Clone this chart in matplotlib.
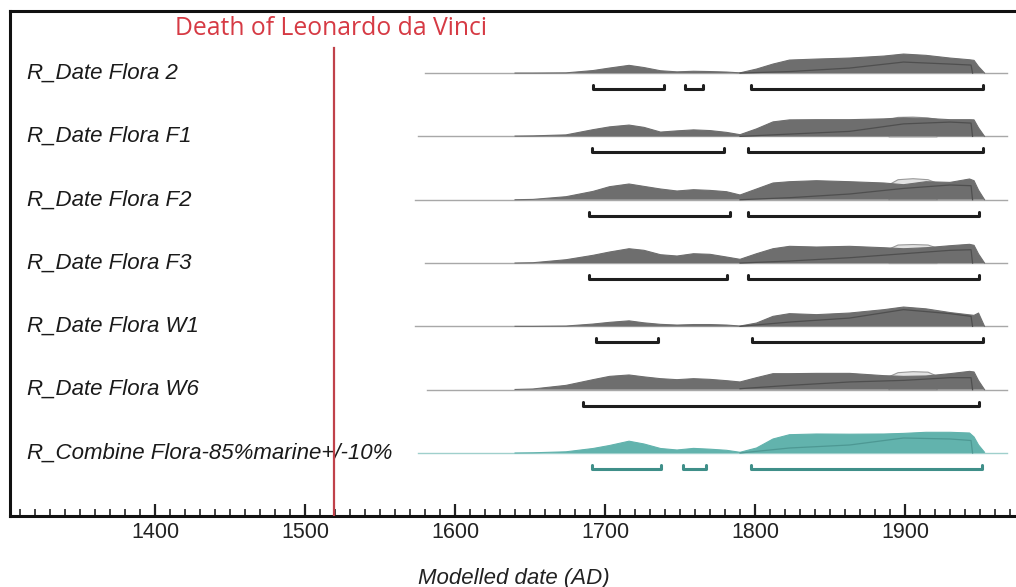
import matplotlib
matplotlib.use("Agg")
import matplotlib.pyplot as plt
from matplotlib.ticker import MultipleLocator

# row names, top to bottom
labels = ["R_Date Flora 2", "R_Date Flora F1", "R_Date Flora F2", "R_Date Flora F3",
          "R_Date Flora W1", "R_Date Flora W6", "R_Combine Flora-85%marine+/-10%"]

years = [1640, 1652, 1674, 1692, 1703, 1716, 1726, 1737, 1748, 1759, 1770, 1781, 1790,
         1801, 1812, 1823, 1841, 1863, 1886, 1899, 1914, 1930, 1943, 1946, 1949, 1953]

# posterior probability (relative)
p_flora2 = [0, 0, 0.2, 2.5, 5, 7.7, 5.5, 2.3, 1.2, 1.8, 1.5, 1, 0.2,
            4, 9, 13, 14, 15, 17, 19, 17.7, 15, 13.3, 12.7, 6.5, 0]
p_f1 = [0.3, 0.5, 1.5, 6.7, 9.5, 11.3, 9, 4.3, 5.5, 6.5, 5.8, 4, 1.7,
        7.5, 14.5, 16.5, 16.7, 16.7, 17.5, 18.5, 18, 16.7, 16.7, 16.5, 8.5, 0]
p_f2 = [0, 0.3, 3, 8.3, 13, 15.7, 13.3, 10.7, 8.7, 10, 9.3, 8, 4.7,
        10.7, 16.7, 18, 19, 18, 16.7, 15, 18, 17.3, 20.7, 19, 9.5, 0]
p_f3 = [0, 0.3, 3.3, 7.7, 11, 14.3, 12.7, 8.3, 7, 9.3, 8.7, 6, 3.7,
        9.3, 14.3, 16.7, 16, 16.7, 15.3, 14.3, 15.3, 17.3, 18.7, 17.7, 9, 0]
p_w1 = [0, 0, 0.3, 2.3, 4, 5.5, 3.5, 2, 1.3, 1.8, 1.8, 1.3, 0.3,
        3.3, 10, 12.7, 11.7, 13.3, 16.7, 19.3, 17.5, 13.8, 11.5, 11, 13.3, 0]
p_w6 = [0.2, 0.7, 4.3, 10, 13.3, 14.7, 12.8, 11, 10, 11, 10.3, 9, 7.7,
        12, 16, 16, 16.3, 16.3, 14, 13.3, 13.7, 16, 18.3, 17.7, 9, 0]
p_comb = [0, 0.2, 1.2, 4.5, 7.5, 11.8, 9, 4.5, 3, 4.6, 3.8, 2.7, 0.7,
          5, 14, 18.3, 19, 18.8, 19, 19.6, 20.7, 20.7, 20, 16, 8, 0.7]

# inner (second) curve, cut off at 1945
inner_years = [1790, 1823, 1863, 1899, 1930, 1944, 1945]
in_flora2 = [0, 1.5, 5, 11, 9, 8, 0]
in_f1 = [0, 2.3, 5, 12.5, 14.3, 13.3, 0]
in_f2 = [0, 2, 5.7, 11.3, 14.7, 14, 0]
in_f3 = [0, 2, 5.3, 9.3, 12.7, 13.3, 0]
in_w1 = [0, 4.3, 8.3, 16.7, 12.7, 10, 0]
in_w6 = [1, 4.3, 7.7, 9.3, 12, 12, 0]
in_comb = [0, 5, 8, 15, 14, 12.5, 0]

# light grey bump around 1900 (None = not shown)
bump_years = [1889, 1895, 1905, 1915, 1921]
bumps = [None,
         [17.5, 19.5, 19.8, 19, 17.5],
         [15.5, 20.5, 21.5, 20.5, 17],
         [14.5, 18.5, 19, 18.5, 15.5],
         None,
         [13.5, 17.5, 18.5, 18, 14],
         None]

# 95% ranges
ranges = [[(1692, 1739), (1753, 1765), (1797, 1952)],
          [(1691, 1779), (1795, 1952)],
          [(1689, 1783), (1795, 1949)],
          [(1689, 1781), (1795, 1949)],
          [(1694, 1735), (1798, 1952)],
          [(1685, 1949)],
          [(1691, 1737), (1752, 1767), (1797, 1951)]]

line_start = [1580, 1575, 1573, 1580, 1573, 1581, 1575]

post = [p_flora2, p_f1, p_f2, p_f3, p_w1, p_w6, p_comb]
inner = [in_flora2, in_f1, in_f2, in_f3, in_w1, in_w6, in_comb]

death_year = 1519.5

plt.rcParams['font.family'] = ['Liberation Sans', 'DejaVu Sans']

fig = plt.figure(figsize=(10.16, 5.87), dpi=100)
ax = fig.add_axes([10 / 1016, 71 / 587, 1008 / 1016, 505 / 587])

px = 63.33  # pixels per row
for i in range(7):
    y0 = 6 - i
    teal = i == 6
    fill_c = '#62b3ad' if teal else '#6e6e6e'
    edge_c = '#4d9893' if teal else '#4f4f4f'
    base_c = '#9fd0cc' if teal else '#a8a8a8'
    br_c = '#3f8f89' if teal else '#1e1e1e'

    ax.plot([line_start[i], 1968], [y0, y0], color=base_c, lw=1, zorder=1)

    if bumps[i] is not None:
        ax.fill_between(bump_years, y0, [y0 + v / px for v in bumps[i]],
                        facecolor='#e2e2e2', edgecolor='#9a9a9a', lw=0.8, zorder=2)

    top = [y0 + v / px for v in post[i]]
    ax.fill_between(years, y0, top, facecolor=fill_c, edgecolor='none', zorder=3)
    ax.plot(years, top, color=fill_c, lw=0.8, zorder=4)
    ax.plot(inner_years, [y0 + v / px for v in inner[i]], color=edge_c, lw=0.9, zorder=4)

    yb = y0 - 16 / px
    hk = 4 / px
    for a, b in ranges[i]:
        ax.plot([a, a, b, b], [yb + hk, yb, yb, yb + hk], color=br_c, lw=2.2,
                solid_joinstyle='round', solid_capstyle='round', zorder=4)

    ax.text(1314.7, y0, labels[i], ha='left', va='center', fontsize=16,
            style='italic', color='#1a1a1a')

# Leonardo line
ax.plot([death_year, death_year], [6 + 25 / px, -1.2], color='#c0414a', lw=1.6, zorder=5)
ax.text(1517.5, 6.71, "Death of Leonardo da Vinci", ha='center', va='center',
        fontsize=17.8, color='#d63a44', family=['Open Sans', 'DejaVu Sans'])

ax.set_xlim(1303.3, 1975.3)
ax.set_ylim(-0.995, 6.98)
ax.set_yticks([])
ax.xaxis.set_major_locator(MultipleLocator(100))
ax.xaxis.set_minor_locator(MultipleLocator(10))
ax.tick_params(axis='x', which='major', direction='in', length=9, width=1.6,
               labelsize=15.5, pad=4, colors='#222222')
ax.tick_params(axis='x', which='minor', direction='in', length=5, width=1.2, colors='#222222')
ax.set_xlabel("Modelled date (AD)", fontsize=16, style='italic', labelpad=18, color='#222222')

for s in ['top', 'left', 'bottom']:
    ax.spines[s].set_linewidth(2.2)
    ax.spines[s].set_color('#111111')
ax.spines['right'].set_visible(False)

fig.savefig("out.png", dpi=100)
